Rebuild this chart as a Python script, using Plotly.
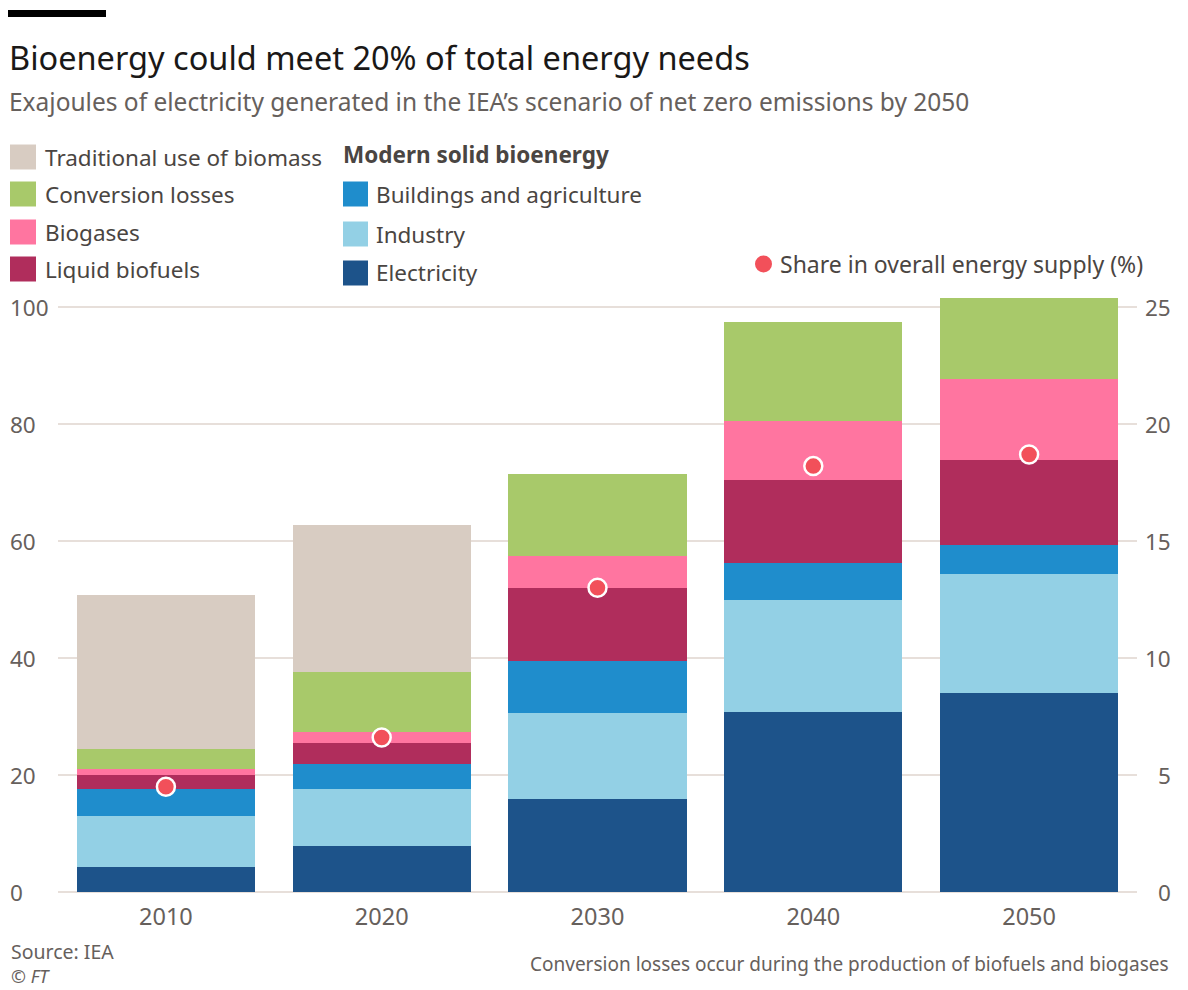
import plotly.graph_objects as go

years = ["2010", "2020", "2030", "2040", "2050"]
electricity = [4.3, 7.9, 15.9, 30.8, 34.0]
industry = [8.7, 9.7, 14.7, 19.1, 20.4]
buildings = [4.6, 4.3, 8.9, 6.3, 4.9]
liquid_biofuels = [2.4, 3.6, 12.5, 14.2, 14.5]
biogases = [1.0, 1.9, 5.4, 10.1, 13.9]
conversion_losses = [3.4, 10.2, 14.1, 16.9, 13.8]
traditional = [26.4, 25.1, 0, 0, 0]
share_pct = [4.5, 6.6, 13.0, 18.2, 18.7]

left_ticks = [0, 20, 40, 60, 80, 100]
right_ticks = [0, 5, 10, 15, 20, 25]

FONT = "Noto Sans"
C_TITLE = "#1a1817"
C_GREY = "#66605c"
C_LEG = "#4a4542"
C_GRID = "#e7dfda"
C_DOT = "#f2505a"

colors = {
    "Electricity": "#1d538a",
    "Industry": "#93d0e5",
    "Buildings and agriculture": "#1f8dcc",
    "Liquid biofuels": "#b02d5c",
    "Biogases": "#ff75a0",
    "Conversion losses": "#a8c96a",
    "Traditional use of biomass": "#d8ccc2",
}

W, H = 1188, 990
ML, MR, MT, MB = 58, 51, 284, 98
PW = W - ML - MR
PH = H - MT - MB


def px(x):
    return (x - ML) / PW


def py(y):
    return (H - MB - y) / PH


fig = go.Figure()
series = [
    ("Electricity", electricity),
    ("Industry", industry),
    ("Buildings and agriculture", buildings),
    ("Liquid biofuels", liquid_biofuels),
    ("Biogases", biogases),
    ("Conversion losses", conversion_losses),
    ("Traditional use of biomass", traditional),
]
for name, vals in series:
    fig.add_trace(go.Bar(x=years, y=vals, name=name,
                         marker=dict(color=colors[name], line=dict(width=0)),
                         showlegend=False))

fig.add_trace(go.Scatter(x=years, y=share_pct, yaxis="y2", mode="markers",
                         name="Share in overall energy supply (%)",
                         marker=dict(size=18, color=C_DOT,
                                     line=dict(color="white", width=2.5)),
                         showlegend=False))

ymax = PH / 5.85

fig.update_layout(
    width=W, height=H,
    margin=dict(l=ML, r=MR, t=MT, b=MB),
    paper_bgcolor="white", plot_bgcolor="white",
    barmode="stack", bargap=0.175,
    font=dict(family=FONT, color=C_GREY),
    xaxis=dict(type="category", showgrid=False, zeroline=False, showline=False,
               ticks="outside", ticklen=4, tickcolor="rgba(0,0,0,0)",
               tickfont=dict(size=23.5, color=C_GREY)),
    yaxis=dict(range=[0, ymax], tickvals=left_ticks, showticklabels=False,
               showgrid=True, gridcolor=C_GRID, gridwidth=1.5,
               zeroline=True, zerolinecolor=C_GRID, zerolinewidth=1.5,
               ticks=""),
    yaxis2=dict(range=[0, ymax / 4], overlaying="y", side="right",
                tickvals=right_ticks, showticklabels=False, showgrid=False,
                zeroline=False, ticks=""),
)

ann = []
shapes = []

# top black bar
shapes.append(dict(type="rect", xref="paper", yref="paper",
                   x0=px(8), x1=px(106), y0=py(17), y1=py(10),
                   fillcolor="black", line=dict(width=0)))

ann.append(dict(text="Bioenergy could meet 20% of total energy needs",
                x=px(7), y=py(57), xanchor="left", yanchor="middle",
                font=dict(size=32.5, color=C_TITLE)))
ann.append(dict(text="Exajoules of electricity generated in the IEA\u2019s scenario of net zero emissions by 2050",
                x=px(7), y=py(101), xanchor="left", yanchor="middle",
                font=dict(size=24.5, color=C_GREY)))

LEG_FS = 22.5
left_items = ["Traditional use of biomass", "Conversion losses", "Biogases", "Liquid biofuels"]
left_rows = [157, 194, 232, 269]
for name, yy in zip(left_items, left_rows):
    shapes.append(dict(type="rect", xref="paper", yref="paper",
                       x0=px(10), x1=px(36), y0=py(yy + 12.5), y1=py(yy - 12.5),
                       fillcolor=colors[name], line=dict(width=0)))
    ann.append(dict(text=name, x=px(43), y=py(yy), xanchor="left", yanchor="middle",
                    font=dict(size=LEG_FS, color=C_LEG)))

ann.append(dict(text="<b>Modern solid bioenergy</b>", x=px(341), y=py(155),
                xanchor="left", yanchor="middle", font=dict(size=LEG_FS, color=C_LEG)))
right_items = ["Buildings and agriculture", "Industry", "Electricity"]
right_rows = [194, 234, 273]
for name, yy in zip(right_items, right_rows):
    shapes.append(dict(type="rect", xref="paper", yref="paper",
                       x0=px(343), x1=px(368), y0=py(yy + 12.5), y1=py(yy - 12.5),
                       fillcolor=colors[name], line=dict(width=0)))
    ann.append(dict(text=name, x=px(374), y=py(yy), xanchor="left", yanchor="middle",
                    font=dict(size=LEG_FS, color=C_LEG)))

shapes.append(dict(type="circle", xref="paper", yref="paper",
                   x0=px(755), x1=px(772), y0=py(272.5), y1=py(255.5),
                   fillcolor=C_DOT, line=dict(width=0)))
ann.append(dict(text="Share in overall energy supply (%)", x=px(778), y=py(264),
                xanchor="left", yanchor="middle", font=dict(size=23, color=C_LEG)))

for t in left_ticks:
    ann.append(dict(text=str(t), xref="paper", yref="y", x=px(8), y=t,
                    xanchor="left", yanchor="middle",
                    font=dict(size=22.5, color=C_GREY)))
for t in right_ticks:
    ann.append(dict(text=str(t), xref="paper", yref="y2", x=px(1173), y=t,
                    xanchor="right", yanchor="middle",
                    font=dict(size=22.5, color=C_GREY)))

ann.append(dict(text="Source: IEA", x=px(9), y=py(951), xanchor="left", yanchor="middle",
                font=dict(size=19.5, color=C_GREY)))
ann.append(dict(text="<i>\u00a9 FT</i>", x=px(9), y=py(976), xanchor="left", yanchor="middle",
                font=dict(size=18, color=C_GREY)))
ann.append(dict(text="Conversion losses occur during the production of biofuels and biogases",
                x=px(1171), y=py(964), xanchor="right", yanchor="middle",
                font=dict(size=19, color=C_GREY)))

for a in ann:
    a.setdefault("xref", "paper")
    a.setdefault("yref", "paper")
    a["showarrow"] = False

fig.update_layout(annotations=ann, shapes=shapes)

fig.write_html("out.html")
